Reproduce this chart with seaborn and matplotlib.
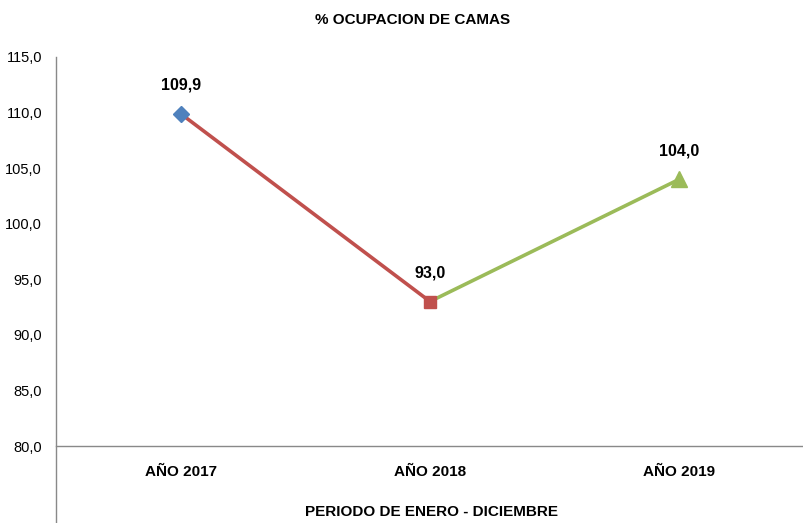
import matplotlib
matplotlib.use("Agg")
import matplotlib.pyplot as plt
import pandas as pd
import seaborn as sns

years = ["AÑO 2017", "AÑO 2018", "AÑO 2019"]
ocupacion = [109.9, 93.0, 104.0]
seg_colors = ["#C0504D", "#9BBB59"]
marker_colors = ["#4F81BD", "#C0504D", "#9BBB59"]
marker_shapes = ["D", "s", "^"]
yticks = [80, 85, 90, 95, 100, 105, 110, 115]

sns.set_style("white")
plt.rcParams["font.family"] = ["Liberation Sans Narrow", "Liberation Sans", "DejaVu Sans"]
plt.rcParams["text.color"] = "black"
plt.rcParams["xtick.color"] = "black"
plt.rcParams["ytick.color"] = "black"

df = pd.DataFrame({"pos": range(len(years)), "year": years, "valor": ocupacion})

fig = plt.figure(figsize=(8.04, 5.23), dpi=100)
ax = fig.add_axes([56 / 804, 77 / 523, 748 / 804, 389 / 523])

# line segments, each with its own colour
for i, c in enumerate(seg_colors):
    sns.lineplot(data=df.iloc[i:i + 2], x="pos", y="valor", color=c,
                 linewidth=2.6, ax=ax, zorder=2)

for i, row in df.iterrows():
    ms = {"D": 8, "s": 9, "^": 11}[marker_shapes[i]]
    ax.plot(row["pos"], row["valor"], marker=marker_shapes[i], color=marker_colors[i],
            markersize=ms, linestyle="none", zorder=3)
    ax.annotate(f"{row['valor']:.1f}".replace(".", ","), (row["pos"], row["valor"]),
                xytext=(0, 15), textcoords="offset points", ha="center", va="bottom",
                fontsize=11.5, fontweight="bold")

ax.set_xlim(-0.5, 2.5)
ax.set_ylim(80, 115)
ax.set_yticks(yticks)
ax.set_yticklabels([f"{v:.1f}".replace(".", ",") for v in yticks], fontsize=10.5)
ax.set_xticks(df["pos"])
ax.set_xticklabels(years, fontsize=11, fontweight="bold")
ax.tick_params(axis="x", length=0, pad=14)
ax.tick_params(axis="y", length=0, pad=10)
ax.set_xlabel("")
ax.set_ylabel("")

for s in ["top", "right"]:
    ax.spines[s].set_visible(False)
for s in ["left", "bottom"]:
    ax.spines[s].set_color("#898989")
    ax.spines[s].set_linewidth(1.0)
ax.spines["left"].set_bounds(72.9, 115)

fig.text(413 / 804, 1 - 20 / 523, "% OCUPACION DE CAMAS", ha="center", va="center",
         fontsize=11, fontweight="bold")
fig.text(432 / 804, 1 - 512 / 523, "PERIODO DE ENERO - DICIEMBRE", ha="center", va="center",
         fontsize=11, fontweight="bold")

fig.savefig("out.png", dpi=100)
